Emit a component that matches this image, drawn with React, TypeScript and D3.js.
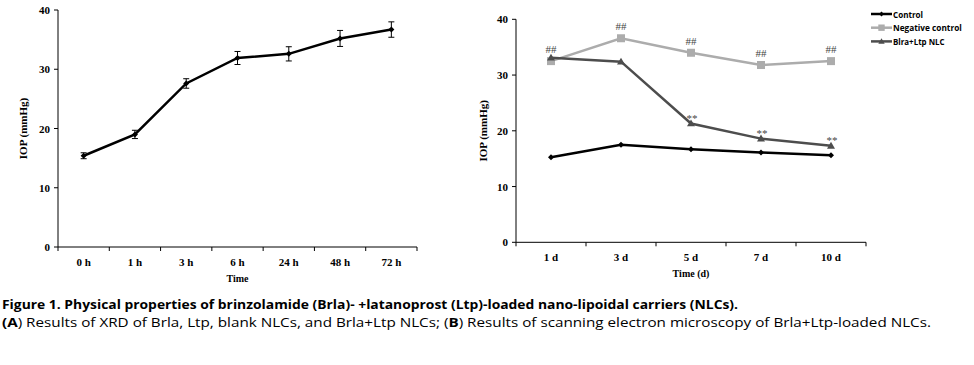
import React from "react";
import * as d3 from "d3";

// panel A: IOP over hours
const hourLabels = ["0 h", "1 h", "3 h", "6 h", "24 h", "48 h", "72 h"];
const hourValues = [15.4, 19.0, 27.6, 31.9, 32.6, 35.2, 36.7];
const hourErrors = [0.5, 0.7, 0.8, 1.1, 1.2, 1.35, 1.3];

// panel B: IOP over days
const dayLabels = ["1 d", "3 d", "5 d", "7 d", "10 d"];
const controlValues = [15.25, 17.5, 16.7, 16.1, 15.6];
const negativeValues = [32.5, 36.6, 34.0, 31.8, 32.5];
const brlaValues = [33.1, 32.4, 21.3, 18.6, 17.3];
const negativeMarks = ["##", "##", "##", "##", "##"];
const brlaMarks = ["", "", "**", "**", "**"];

const seriesNames = ["Control", "Negative control", "Blra+Ltp NLC"];
const yTicks = [0, 10, 20, 30, 40];

const serif = "'Liberation Serif', 'Times New Roman', serif";
const sans = "'Open Sans', 'Liberation Sans', sans-serif";

function marker(kind: string, x: number, y: number, color: string, size = 1) {
  if (kind === "diamond") {
    const s = 3 * size;
    return <path d={`M${x},${y - s}L${x + s},${y}L${x},${y + s}L${x - s},${y}Z`} fill={color} />;
  }
  if (kind === "square") {
    const s = 4 * size;
    return <rect x={x - s} y={y - s} width={2 * s} height={2 * s} fill={color} />;
  }
  const s = 4 * size;
  return <path d={`M${x},${y - s}L${x + s},${y + s * 0.7}L${x - s},${y + s * 0.7}Z`} fill={color} />;
}

function Axes({ x, y, labels, title, ylabelX }: any) {
  const [x0, x1] = x.range();
  const [y0] = y.range();
  const edges = labels.map((l: string) => x(l)).concat([x1]);
  return (
    <g fontFamily={serif} fontWeight="bold" fill="#000">
      <line x1={x0} x2={x0} y1={y(40)} y2={y0} stroke="#000" />
      <line x1={x0} x2={x1} y1={y0} y2={y0} stroke="#000" />
      {yTicks.map((t) => (
        <g key={t}>
          <line x1={x0 - 4} x2={x0} y1={y(t)} y2={y(t)} stroke="#000" />
          <text x={x0 - 8} y={y(t) + 4} textAnchor="end" fontSize={11}>{t}</text>
        </g>
      ))}
      {edges.map((e: number, i: number) => (
        <line key={i} x1={e} x2={e} y1={y0} y2={y0 + 4} stroke="#000" />
      ))}
      {labels.map((l: string) => (
        <text key={l} x={x(l) + x.bandwidth() / 2} y={y0 + 19} textAnchor="middle" fontSize={11}>{l}</text>
      ))}
      <text x={(x0 + x1) / 2} y={y0 + 35} textAnchor="middle" fontSize={10}>{title}</text>
      <text transform={`translate(${ylabelX},${(y(40) + y0) / 2}) rotate(-90)`} textAnchor="middle" fontSize={11}>IOP (mmHg)</text>
    </g>
  );
}

export default function App() {
  // left panel scales
  const xA = d3.scaleBand<string>().domain(hourLabels).range([58, 417]).padding(0);
  const yA = d3.scaleLinear().domain([0, 40]).range([247, 10]);
  const cxA = (l: string) => xA(l)! + xA.bandwidth() / 2;
  const lineA = d3.line<number>().x((_, i) => cxA(hourLabels[i])).y((d) => yA(d));

  // right panel scales
  const xB = d3.scaleBand<string>().domain(dayLabels).range([516, 866]).padding(0);
  const yB = d3.scaleLinear().domain([0, 40]).range([242.3, 19.3]);
  const cxB = (l: string) => xB(l)! + xB.bandwidth() / 2;
  const lineB = d3.line<number>().x((_, i) => cxB(dayLabels[i])).y((d) => yB(d));

  const series = [
    { name: seriesNames[0], values: controlValues, color: "#000000", kind: "diamond", width: 2.5 },
    { name: seriesNames[1], values: negativeValues, color: "#acacac", kind: "square", width: 2.5 },
    { name: seriesNames[2], values: brlaValues, color: "#4d4d4d", kind: "triangle", width: 2.5 },
  ];

  return (
    <svg width={974} height={365} style={{ position: "absolute", left: 0, top: 0, background: "#fff" }}>
      <rect width={974} height={365} fill="#fff" />

      {/* panel A */}
      <Axes x={xA} y={yA} labels={hourLabels} title="Time" ylabelX={27} />
      {hourValues.map((v, i) => {
        const cx = cxA(hourLabels[i]);
        const e = hourErrors[i];
        return (
          <g key={i} stroke="#000" strokeWidth={1}>
            <line x1={cx} x2={cx} y1={yA(v + e)} y2={yA(v - e)} />
            <line x1={cx - 3} x2={cx + 3} y1={yA(v + e)} y2={yA(v + e)} />
            <line x1={cx - 3} x2={cx + 3} y1={yA(v - e)} y2={yA(v - e)} />
          </g>
        );
      })}
      <path d={lineA(hourValues)!} fill="none" stroke="#000" strokeWidth={2.5} />
      {hourValues.map((v, i) => (
        <g key={i}>{marker("diamond", cxA(hourLabels[i]), yA(v), "#000")}</g>
      ))}

      {/* panel B */}
      <Axes x={xB} y={yB} labels={dayLabels} title="Time (d)" ylabelX={487} />
      {series.map((s) => (
        <g key={s.name}>
          <path d={lineB(s.values)!} fill="none" stroke={s.color} strokeWidth={s.width} />
          {s.values.map((v, i) => (
            <g key={i}>{marker(s.kind, cxB(dayLabels[i]), yB(v), s.color)}</g>
          ))}
        </g>
      ))}
      <g fontFamily={serif} fontSize={11} fill="#444">
        {negativeMarks.map((m, i) => (
          <text key={i} x={cxB(dayLabels[i])} y={yB(negativeValues[i]) - 8} textAnchor="middle">{m}</text>
        ))}
        {brlaMarks.map((m, i) => (
          <text key={i} x={cxB(dayLabels[i]) + 1} y={yB(brlaValues[i]) - 2} textAnchor="middle">{m}</text>
        ))}
      </g>

      {/* legend */}
      {series.map((s, i) => {
        const ly = 14 + i * 13.7;
        return (
          <g key={s.name}>
            <line x1={871} x2={892} y1={ly} y2={ly} stroke={s.color} strokeWidth={2.5} />
            {marker(s.kind, 881.5, ly, s.color, 0.8)}
            <text x={893} y={ly + 3.5} fontFamily={sans} fontWeight="bold" fontSize={9} fill="#000" textLength={s.name.length * 4.3} lengthAdjust="spacingAndGlyphs">{s.name}</text>
          </g>
        );
      })}

      {/* caption */}
      <text x={2} y={309} fontFamily={sans} fontSize={13} fontWeight="bold" fill="#000" textLength={736} lengthAdjust="spacingAndGlyphs">
        Figure 1. Physical properties of brinzolamide (Brla)- +latanoprost (Ltp)-loaded nano-lipoidal carriers (NLCs).
      </text>
      <text x={2} y={327} fontFamily={sans} fontSize={13} fill="#000" textLength={929} lengthAdjust="spacingAndGlyphs">
        <tspan fontWeight="bold">(A</tspan>) Results of XRD of Brla, Ltp, blank NLCs, and Brla+Ltp NLCs; (<tspan fontWeight="bold">B</tspan>) Results of scanning electron microscopy of Brla+Ltp-loaded NLCs.
      </text>
    </svg>
  );
}
